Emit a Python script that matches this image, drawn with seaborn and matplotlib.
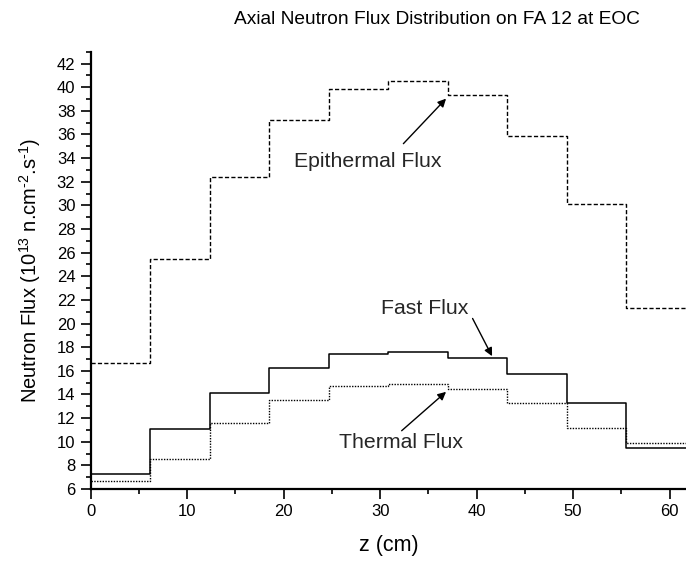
import pandas as pd
import seaborn as sns
import matplotlib.pyplot as plt
from matplotlib.ticker import MultipleLocator

sns.set_theme(style="ticks")
plt.rcParams['font.family'] = ['Liberation Sans', 'DejaVu Sans']
plt.rcParams['mathtext.fontset'] = 'custom'
plt.rcParams['mathtext.rm'] = 'Liberation Sans'
plt.rcParams['mathtext.it'] = 'Liberation Sans:italic'

# axial node boundaries (cm)
z_edges = [0, 6.17, 12.34, 18.51, 24.68, 30.85, 37.02, 43.19, 49.36, 55.53, 61.7]

# flux per node (10^13 n/cm2/s)
epithermal_flux = [16.7, 25.5, 32.4, 37.2, 39.85, 40.5, 39.3, 35.9, 30.1, 21.3]
fast_flux = [7.27, 11.05, 14.1, 16.25, 17.39, 17.63, 17.1, 15.75, 13.28, 9.51]
thermal_flux = [6.68, 8.56, 11.58, 13.5, 14.68, 14.92, 14.5, 13.25, 11.2, 9.88]


def step_frame(values):
	# repeat last value so the final step reaches the top edge
	return pd.DataFrame({'z': z_edges, 'flux': values + [values[-1]]})


def plot_axial_flux():
	fig = plt.figure(figsize=(6.86, 5.64), dpi=100)
	ax = fig.add_axes([0.1322, 0.133, 0.8678, 0.7753])

	sns.lineplot(data=step_frame(epithermal_flux), x='z', y='flux', ax=ax,
			drawstyle='steps-post', color='black', lw=1.0, dashes=(3.0, 1.6), sort=False)
	sns.lineplot(data=step_frame(fast_flux), x='z', y='flux', ax=ax,
			drawstyle='steps-post', color='black', lw=1.1, sort=False)
	sns.lineplot(data=step_frame(thermal_flux), x='z', y='flux', ax=ax,
			drawstyle='steps-post', color='black', lw=1.0, dashes=(1.0, 1.0), sort=False)

	ax.set_xlim(0, 61.7)
	ax.set_ylim(6, 43)
	ax.xaxis.set_major_locator(MultipleLocator(10))
	ax.xaxis.set_minor_locator(MultipleLocator(5))
	ax.yaxis.set_major_locator(MultipleLocator(2))
	ax.yaxis.set_minor_locator(MultipleLocator(1))
	ax.set_yticks(range(6, 43, 2))

	sns.despine(ax=ax)
	for side in ['left', 'bottom']:
		ax.spines[side].set_linewidth(1.6)
		ax.spines[side].set_color('black')
	ax.tick_params(which='major', length=7, width=1.2, color='black', labelsize=12, pad=4, labelcolor='black')
	ax.tick_params(which='minor', length=3.5, width=1.2, color='black')

	ax.set_xlabel('z (cm)', fontsize=15.5, labelpad=11, color='black')
	ax.set_ylabel(r'Neutron Flux (10$^{13}$ n.cm$^{\text{-}2}$.s$^{\text{-}1}$)',
			fontsize=14.5, labelpad=10, color='black')

	fig.text(0.637, 0.966, 'Axial Neutron Flux Distribution on FA 12 at EOC',
			ha='center', va='center', fontsize=13.8, color='black')

	arrow = dict(arrowstyle='-|>', color='black', lw=1.0, mutation_scale=12, shrinkA=0, shrinkB=0)
	ax.text(28.7, 33.67, 'Epithermal Flux', ha='center', va='center', fontsize=15.3)
	ax.annotate('', xy=(36.83, 39.03), xytext=(32.41, 35.22), arrowprops=arrow)
	ax.text(34.63, 21.27, 'Fast Flux', ha='center', va='center', fontsize=15.3)
	ax.annotate('', xy=(41.6, 17.24), xytext=(39.58, 20.43), arrowprops=arrow)
	ax.text(32.17, 9.91, 'Thermal Flux', ha='center', va='center', fontsize=15.3)
	ax.annotate('', xy=(36.83, 14.22), xytext=(32.23, 10.93), arrowprops=arrow)

	fig.savefig('out.png', dpi=100)


def main():
	plot_axial_flux()


if __name__ == "__main__":
	main()
